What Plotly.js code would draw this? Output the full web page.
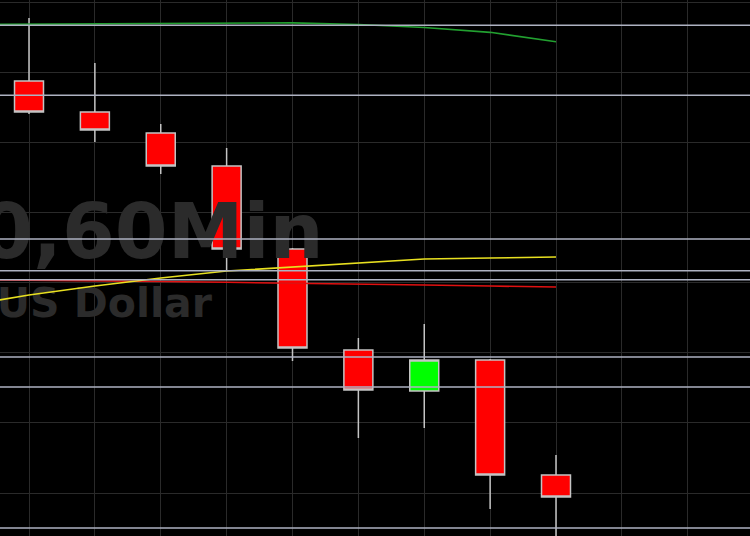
<!DOCTYPE html>
<html>
<head>
<meta charset="utf-8">
<script src="https://cdn.plot.ly/plotly-3.0.1.min.js"></script>
<style>html,body{margin:0;padding:0;background:#000;}#chart{width:750px;height:536px;}</style>
</head>
<body>
<div id="chart"></div>
<script>
// candle data (index = hourly bar)
var barIdx = [0, 1, 2, 3, 4, 5, 6, 7, 8];
var opens  = [1.138874, 1.138432, 1.138132, 1.137662, 1.136479, 1.135039, 1.134454, 1.134896, 1.133256];
var highs  = [1.139772, 1.139130, 1.138261, 1.137918, 1.136493, 1.135210, 1.135409, 1.134910, 1.133542];
var lows   = [1.138403, 1.138004, 1.137548, 1.136165, 1.134882, 1.133784, 1.133927, 1.132772, 1.132045];
var closes = [1.138432, 1.138175, 1.137662, 1.136479, 1.135067, 1.134468, 1.134896, 1.133256, 1.132943];

// moving averages
var maIdx   = [-1, 0, 1, 2, 3, 4, 5, 6, 7, 8];
var maGreen = [1.139678, 1.139684, 1.139691, 1.139696, 1.139701, 1.139703, 1.139679, 1.139636, 1.139568, 1.139434];
var maYellow= [1.135666, 1.135823, 1.135951, 1.136065, 1.136165, 1.136222, 1.136279, 1.136336, 1.136350, 1.136364];
var maRed   = [1.136044, 1.136037, 1.136025, 1.136015, 1.136004, 1.135994, 1.135980, 1.135965, 1.135951, 1.135937];

// horizontal support / resistance levels
var levels = [1.13967, 1.13867, 1.13662, 1.13617, 1.13604, 1.13494, 1.13451, 1.13250];

// watermark texts
var watermarkMain = "EURUSD0,60Min";
var watermarkSub = "Euro/US Dollar";

var traces = [
  {type: 'scatter', mode: 'text', x: [4.471], y: [1.136615], text: [watermarkMain],
   textposition: 'middle left', hoverinfo: 'skip',
   textfont: {family: 'DejaVu Sans, sans-serif', size: 76, color: '#2b2b2b', weight: 'bold'}},
  {type: 'scatter', mode: 'text', x: [2.778], y: [1.135652], text: [watermarkSub],
   textposition: 'middle left', hoverinfo: 'skip',
   textfont: {family: 'DejaVu Sans, sans-serif', size: 41, color: '#2b2b2b', weight: 'bold'}},
  {type: 'candlestick', x: barIdx, open: opens, high: highs, low: lows, close: closes,
   whiskerwidth: 0,
   increasing: {fillcolor: '#00ff00', line: {color: '#c4c4c4', width: 1.5}},
   decreasing: {fillcolor: '#ff0000', line: {color: '#c4c4c4', width: 1.5}},
   hoverinfo: 'skip'},
  {type: 'scatter', mode: 'lines', x: maIdx, y: maRed, line: {color: '#e01010', width: 1.6}, hoverinfo: 'skip'},
  {type: 'scatter', mode: 'lines', x: maIdx, y: maYellow, line: {color: '#e8e020', width: 1.6}, hoverinfo: 'skip'},
  {type: 'scatter', mode: 'lines', x: maIdx, y: maGreen, line: {color: '#22a030', width: 1.6}, hoverinfo: 'skip'}
];

var shapes = levels.map(function (v) {
  return {type: 'line', xref: 'paper', x0: 0, x1: 1, yref: 'y', y0: v, y1: v,
          line: {color: '#aeb2c2', width: 1.5}, layer: 'above'};
});

var layout = {
  width: 750, height: 536,
  margin: {l: 0, r: 0, t: 0, b: 0, pad: 0},
  paper_bgcolor: '#000000', plot_bgcolor: '#000000',
  showlegend: false,
  boxgap: 0.56, boxgroupgap: 0,
  xaxis: {range: [-0.4402, 10.945], dtick: 1, tick0: 0, showgrid: true, gridcolor: '#2a2a2a', gridwidth: 1,
          showticklabels: false, zeroline: false, showline: false, ticks: '',
          rangeslider: {visible: false}, fixedrange: true},
  yaxis: {range: [1.132387, 1.140029], dtick: 0.001, tick0: 1.14, showgrid: true, gridcolor: '#2a2a2a', gridwidth: 1,
          showticklabels: false, zeroline: false, showline: false, ticks: '', fixedrange: true},
  shapes: shapes
};

Plotly.newPlot('chart', traces, layout, {displayModeBar: false, staticPlot: true});
</script>
</body>
</html>
